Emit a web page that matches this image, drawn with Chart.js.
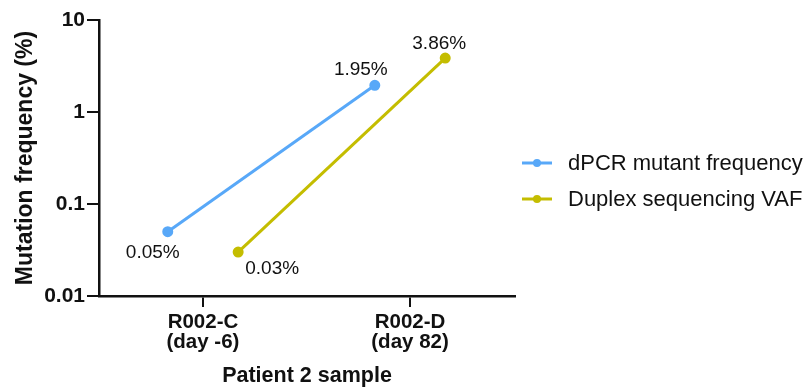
<!DOCTYPE html>
<html>
<head>
<meta charset="utf-8">
<script src="https://cdn.jsdelivr.net/npm/chart.js@4/dist/chart.umd.min.js"></script>
<style>
  html, body { margin: 0; padding: 0; background: #fff; }
  #wrap { width: 809px; height: 390px; }
</style>
</head>
<body>
<div id="wrap"><canvas id="mutChart" width="809" height="390"></canvas></div>
<script>
// ===== DATA =====
const categories = [['R002-C', '(day -6)'], ['R002-D', '(day 82)']];
const seriesNames = ['dPCR mutant frequency', 'Duplex sequencing VAF'];
const dpcrValues = [0.05, 1.95];
const duplexValues = [0.03, 3.86];
const yTicks = [0.01, 0.1, 1, 10];
const yTickLabels = ['0.01', '0.1', '1', '10'];

const BLUE = '#58a8f8';
const OLIVE = '#c4bd00';
const INK = '#111';
const FONT = "'Liberation Sans', Arial, sans-serif";

// side-by-side dodge of the two series around each category
const DODGE = [-0.17, 0.17];

function makePoints(vals, k) {
    return vals.map((v, i) => ({ x: i + DODGE[k], y: v }));
}

// ===== VALUE LABELS + LEGEND =====
// where each value label sits relative to its point (px)
const labelOffsets = [
    [[-15, 21], [-14, -16]],
    [[34, 17], [-6, -14]]
];

const annotate = {
    id: 'annotate',
    afterDatasetsDraw(chart) {
        const ctx = chart.ctx;
        ctx.save();
        ctx.font = '19px ' + FONT;
        ctx.fillStyle = INK;
        ctx.textAlign = 'center';
        ctx.textBaseline = 'middle';
        chart.data.datasets.forEach((ds, k) => {
            const meta = chart.getDatasetMeta(k);
            meta.data.forEach((pt, i) => {
                const off = labelOffsets[k][i];
                ctx.fillText(ds.data[i].y + '%', pt.x + off[0], pt.y + off[1]);
            });
        });

        // legend
        ctx.textAlign = 'left';
        ctx.font = '22px ' + FONT;
        chart.data.datasets.forEach((ds, k) => {
            const y = 163 + k * 36;
            ctx.strokeStyle = ds.borderColor;
            ctx.lineWidth = 3;
            ctx.beginPath();
            ctx.moveTo(522, y);
            ctx.lineTo(552, y);
            ctx.stroke();
            ctx.fillStyle = ds.borderColor;
            ctx.beginPath();
            ctx.arc(537, y, 4, 0, Math.PI * 2);
            ctx.fill();
            ctx.fillStyle = INK;
            ctx.fillText(ds.label, 568, y + 1);
        });
        ctx.restore();
    }
};

// ===== CHART =====
function createChart() {
    const ctx = document.getElementById('mutChart').getContext('2d');
    const datasets = [dpcrValues, duplexValues].map((vals, k) => ({
        label: seriesNames[k],
        data: makePoints(vals, k),
        borderColor: k === 0 ? BLUE : OLIVE,
        backgroundColor: k === 0 ? BLUE : OLIVE,
        borderWidth: 3,
        pointRadius: 4,
        pointHoverRadius: 4,
        showLine: true,
        tension: 0
    }));

    new Chart(ctx, {
        type: 'scatter',
        data: { datasets: datasets },
        options: {
            responsive: false,
            animation: false,
            layout: { padding: { top: 20, right: 294, left: 0, bottom: 0 } },
            plugins: {
                legend: { display: false },
                tooltip: { enabled: false }
            },
            scales: {
                x: {
                    type: 'linear',
                    min: -0.502,
                    max: 1.507,
                    afterBuildTicks: (scale) => {
                        scale.ticks = categories.map((_, i) => ({ value: i }));
                    },
                    afterFit: (scale) => { scale.height = 94; },
                    ticks: {
                        color: INK,
                        padding: 6,
                        maxRotation: 0,
                        autoSkip: false,
                        font: { family: FONT, size: 20.5, weight: 'bold', lineHeight: 0.96 },
                        callback: (val) => categories[Math.round(val)]
                    },
                    grid: {
                        drawOnChartArea: false,
                        drawTicks: true,
                        tickLength: 11,
                        color: INK,
                        lineWidth: 2
                    },
                    border: { color: INK, width: 2.5 },
                    title: {
                        display: true,
                        text: 'Patient 2 sample',
                        color: INK,
                        font: { family: FONT, size: 21.5, weight: 'bold', lineHeight: 1 },
                        padding: { top: 0, bottom: 3 }
                    }
                },
                y: {
                    type: 'logarithmic',
                    min: 0.01,
                    max: 10,
                    afterBuildTicks: (scale) => {
                        scale.ticks = yTicks.map(v => ({ value: v }));
                    },
                    afterFit: (scale) => { scale.width = 99; },
                    ticks: {
                        color: INK,
                        padding: 2,
                        font: { family: FONT, size: 21, weight: 'bold' },
                        callback: (val) => yTickLabels[yTicks.indexOf(val)]
                    },
                    grid: {
                        drawOnChartArea: false,
                        drawTicks: true,
                        tickLength: 12,
                        color: INK,
                        lineWidth: 2
                    },
                    border: { color: INK, width: 2.5 },
                    title: {
                        display: true,
                        text: 'Mutation frequency (%)',
                        color: INK,
                        font: { family: FONT, size: 23, weight: 'bold', lineHeight: 1 },
                        padding: { top: 14, bottom: 0 }
                    }
                }
            }
        },
        plugins: [annotate]
    });
}

createChart();
</script>
</body>
</html>
